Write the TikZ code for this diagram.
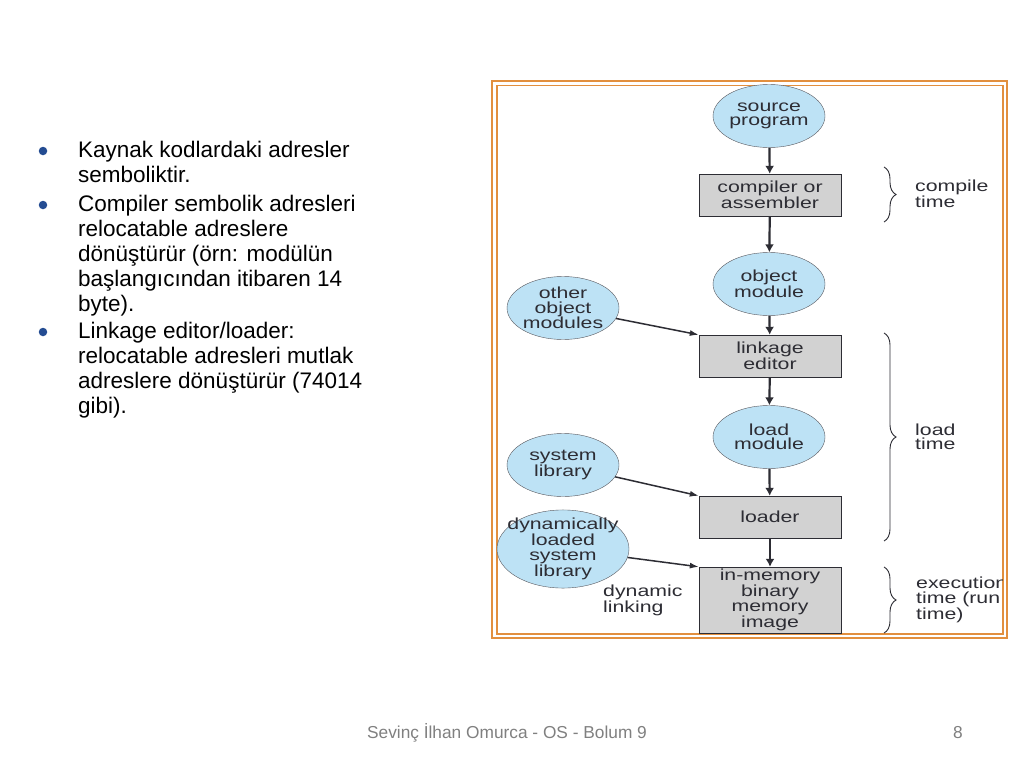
\documentclass[tikz,border=0pt]{standalone}
\usepackage{fontspec}
\setmainfont{Liberation Sans}
\newfontfamily\diagfont[FakeStretch=1.33]{Liberation Sans}
\usetikzlibrary{shapes.geometric,decorations.pathreplacing,arrows.meta}
\definecolor{modblue}{RGB}{189,226,245}
\definecolor{stagegray}{RGB}{210,210,210}
\definecolor{framec}{RGB}{226,143,62}
\definecolor{bulletc}{RGB}{36,76,146}
\definecolor{inkc}{RGB}{45,45,52}
\definecolor{footc}{RGB}{128,128,128}
\newcommand{\diagtext}{\diagfont\fontsize{16}{14.5}\selectfont}

\begin{document}
\begin{tikzpicture}[x=1pt,y=-1pt,
		mod/.style={
			draw=inkc!80,
			fill=modblue,
			ellipse,
			inner xsep=-12pt,
			inner ysep=-3pt,
			minimum width=112pt,
			minimum height=63pt,
			align=center,
			font=\diagtext,
			text=inkc
		},
		stage/.style={
			draw=inkc,
			fill=stagegray,
			rectangle,
			inner sep=0,
			minimum width=142pt,
			minimum height=42pt,
			align=center,
			font=\diagtext,
			text=inkc
		},
		side/.style={
			anchor=west,
			align=left,
			inner sep=0,
			font=\diagtext,
			text=inkc
		},
		brc/.style={
			draw=inkc,
			line width=0.9pt,
			decorate,
			decoration={brace,amplitude=12pt}
		},
		item/.style={
			anchor=north west,
			align=left,
			inner sep=0,
			font=\fontsize{22.5}{25}\selectfont
		},
		dot/.style={circle,fill=bulletc,inner sep=0,minimum size=8.5pt},
		flow/.style={-{Latex[length=8pt,width=9pt]},draw=inkc,line width=2.2pt},
		feed/.style={-{Latex[length=9pt,width=6pt]},draw=inkc,line width=1.5pt}
		]
		\useasboundingbox[fill=white] (0,0) rectangle (1024,768);
		% Bullet text
		\node[dot] (b1) at (43,151) {};
		\node[dot] (b2) at (43,205) {};
		\node[dot] (b3) at (43,332) {};
		\node[item] (t1) at (78,141) {Kaynak kodlardaki adresler\\semboliktir.};
		\node[item] (t2) at (78,195) {Compiler sembolik adresleri\\relocatable adreslere\\dönüştürür (örn: modülün\\başlangıcından itibaren 14\\byte).};
		\node[item] (t3) at (78,322) {Linkage editor/loader:\\relocatable adresleri mutlak\\adreslere dönüştürür (74014\\gibi).};
		% Frame
		\draw[framec,line width=2.5pt] (492,81) rectangle (1007,638);
		\draw[framec,line width=1.2pt] (497,85.5) rectangle (1003,634);
		% Modules and stages
		\node[mod] (src) at (769,116) {source\\program};
		\node[stage] (comp) at (770,195) {compiler or\\assembler};
		\node[mod] (obj) at (769,284) {object\\module};
		\node[mod] (oth) at (563,308) {other\\object\\modules};
		\node[stage] (link) at (770,356) {linkage\\editor};
		\node[mod] (ldm) at (769,437) {load\\module};
		\node[mod] (syslib) at (563,465) {system\\library};
		\node[stage] (loader) at (770,517) {loader};
		\node[mod,minimum width=132pt,minimum height=78pt] (dyn) at (563,549) {dynamically\\loaded\\system\\library};
		\node[stage,minimum height=66pt] (mem) at (770,600) {in-memory\\binary\\memory\\image};
		\node[side] (dl) at (603,600) {dynamic\\linking};
		% Main flow
		\foreach \a/\b in {src/comp,comp/obj,obj/link,link/ldm,ldm/loader,loader/mem}
			\draw[flow] (\a) -- (\b);
		% Side inputs
		\draw[feed] (oth) -- (link.north west);
		\draw[feed] (syslib) -- (loader.north west);
		\draw[feed] (dyn) -- (mem.north west);
		% Braces
		\draw[brc] (884,167) -- coordinate (ct) (884,222);
		\draw[brc] (884,333) -- coordinate (lt) (884,541);
		\draw[brc] (884,567) -- coordinate (et) (884,633);
		\node[side] (ctl) at (915,194) {compile\\time};
		\node[side] (ltl) at (915,437) {load\\time};
		\begin{scope}
			\clip (497,85) rectangle (1002,634);
			\node[side] (etl) at (916,600) {execution\\time (run\\time)};
		\end{scope}
		% Footer
		\node[text=footc,font=\fontsize{17.3}{17.3}\selectfont] (foot) at (507,733) {Sevinç İlhan Omurca - OS - Bolum 9};
		\node[text=footc,font=\fontsize{17.3}{17.3}\selectfont] (pg) at (958,733) {8};
\end{tikzpicture}
\end{document}
